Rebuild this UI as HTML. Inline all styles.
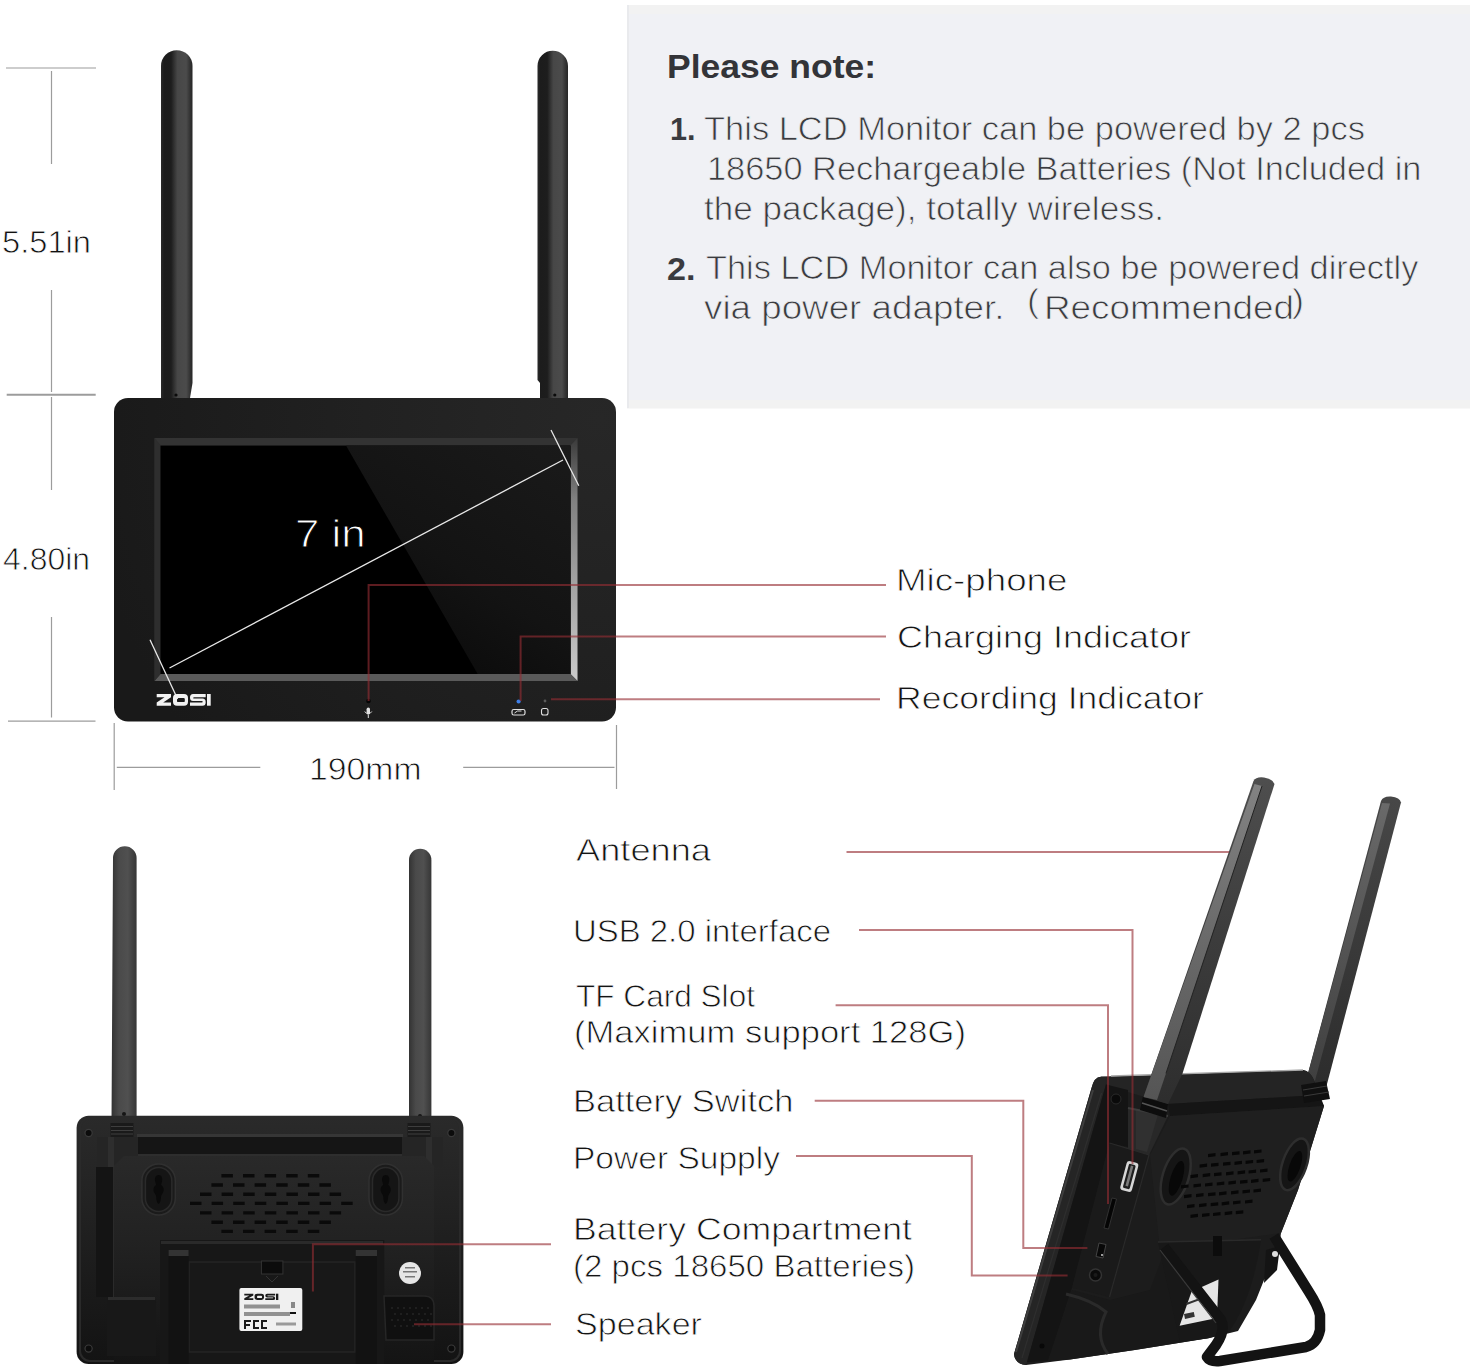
<!DOCTYPE html>
<html><head><meta charset="utf-8"><style>
html,body{margin:0;padding:0;background:#fff;width:1470px;height:1369px;overflow:hidden}
.t{position:absolute;white-space:nowrap;line-height:1;font-family:"Liberation Sans",sans-serif;transform-origin:0 0}
svg{position:absolute;left:0;top:0}
</style></head><body>
<svg width="1470" height="1369" viewBox="0 0 1470 1369">
<defs>
 <linearGradient id="ant" x1="0" x2="1" y1="0" y2="0">
  <stop offset="0" stop-color="#2a2a2a"/><stop offset="0.1" stop-color="#1c1c1c"/><stop offset="0.32" stop-color="#1d1d1d"/>
  <stop offset="0.52" stop-color="#474747"/><stop offset="0.8" stop-color="#4b4b4b"/><stop offset="0.92" stop-color="#333"/><stop offset="1" stop-color="#262626"/>
 </linearGradient>
 <linearGradient id="bant" x1="0" x2="1" y1="0" y2="0">
  <stop offset="0" stop-color="#333"/><stop offset="0.3" stop-color="#4a4a4a"/><stop offset="0.65" stop-color="#505050"/><stop offset="1" stop-color="#363636"/>
 </linearGradient>
 <linearGradient id="rbev" x1="0" x2="0" y1="0" y2="1">
  <stop offset="0" stop-color="#3a3a3a"/><stop offset="0.25" stop-color="#808080"/><stop offset="1" stop-color="#cacaca"/>
 </linearGradient>
 <linearGradient id="refl" gradientUnits="userSpaceOnUse" x1="570" y1="446" x2="420" y2="674">
  <stop offset="0" stop-color="#1a1a1a"/><stop offset="0.6" stop-color="#131313"/><stop offset="1" stop-color="#0a0a0a"/>
 </linearGradient>
 <radialGradient id="body" gradientUnits="userSpaceOnUse" cx="600" cy="420" r="520">
  <stop offset="0" stop-color="#272727"/><stop offset="0.45" stop-color="#212121"/><stop offset="1" stop-color="#191919"/>
 </radialGradient>
</defs>
<!-- gray note box -->
<rect x="627" y="5" width="843" height="403" fill="#f0f1f5"/>
<rect x="627" y="5" width="843" height="9" fill="#f2f2f2"/>
<rect x="627" y="400" width="843" height="8.5" fill="#f2f2f2"/>
<rect x="627" y="5" width="2" height="403" fill="#e9eaed"/>
<!-- dimension lines -->
<g stroke="#9c9c9c" stroke-width="1.2" fill="none">
 <path d="M6 68H96M51.5 71V164M51.5 290V392M51.5 397V490M51.5 617V717.4M114.2 723V790M116.8 767.3H260.3M463.2 767.3H614.5M616.5 725V789"/>
 <path d="M6.7 394.8H95.7" stroke-width="2"/><path d="M8 721.2H95.5" stroke-width="1.3"/>
</g>
<!-- front antennas -->
<path d="M161 66 A15.7 15.7 0 0 1 192.5 66 V383 L190 398 H161 Z" fill="url(#ant)"/>
<path d="M537.5 66 A15.2 15.2 0 0 1 568 66 V398 H540 V383 L537.5 380 Z" fill="url(#ant)"/>
<circle cx="176" cy="395" r="1.6" fill="#0a0a0a"/>
<circle cx="554.8" cy="395" r="1.6" fill="#0a0a0a"/>
<!-- front body -->
<rect x="114" y="398" width="502" height="323.5" rx="14" fill="url(#body)"/>
<!-- bezel -->
<rect x="154.5" y="438" width="423" height="243" fill="#2c2c2c"/>
<polygon points="154.5,438 577.5,438 570.5,445.6 160.5,445.6" fill="#333"/>
<polygon points="577.5,438 577.5,681 570.5,674 570.5,445.6" fill="url(#rbev)"/>
<polygon points="154.5,681 577.5,681 570.5,674 160.5,674" fill="#5a5a5a"/>
<polygon points="154.5,438 160.5,445.6 160.5,674 154.5,681" fill="#2e2e2e"/>
<rect x="160.5" y="445.6" width="410" height="228.4" fill="#000"/>
<polygon points="346,445.6 570.5,445.6 570.5,674 477.7,674" fill="url(#refl)"/>
<!-- diagonal + ticks -->
<g stroke="#e8e8e8" stroke-width="1.3">
 <line x1="169.5" y1="668" x2="563" y2="460"/>
 <line x1="150" y1="639.7" x2="177.6" y2="698.9"/>
 <line x1="551" y1="430" x2="578.8" y2="485.7"/>
</g>
<!-- ZOSI logo -->
<g fill="#f2f2f2">
 <path d="M156.7 694H171V697.3L163.2 702.4H171V705.7H156.7V702.4L164.5 697.3H156.7Z"/>
 <path d="M177 694h7a4 4 0 0 1 4 4v3.7a4 4 0 0 1-4 4h-7a4 4 0 0 1-4-4v-3.7a4 4 0 0 1 4-4zM178.2 697.9h5.4a1.2 1.2 0 0 1 1.2 1.2v1.8a1.2 1.2 0 0 1-1.2 1.2h-5.4a1.2 1.2 0 0 1-1.2-1.2v-1.8a1.2 1.2 0 0 1 1.2-1.2z" fill-rule="evenodd"/>
 <path d="M205.7 694H193Q190 694 190 697.5Q190 701 193 701H202Q202.7 701 202.7 701.7Q202.7 702.4 202 702.4H190V705.7H202.5Q205.7 705.7 205.7 702.2Q205.7 698.6 202.5 698.6H194Q193.2 698.6 193.2 697.95Q193.2 697.3 194 697.3H205.7Z"/>
 <rect x="207" y="694" width="3.7" height="11.7"/>
</g>
<!-- indicators -->
<circle cx="368.5" cy="701" r="2.3" fill="#050505"/>
<rect x="366.6" y="707.5" width="3.4" height="7" rx="1.7" fill="#e0e0e0"/>
<path d="M364.8 711.5q3.5 5 7 0M368.3 715v3" fill="none" stroke="#e0e0e0" stroke-width="1"/>
<circle cx="518.6" cy="701.5" r="2.1" fill="#3d7fe8"/>
<rect x="512" y="709.5" width="13" height="5.5" rx="1.8" fill="none" stroke="#e0e0e0" stroke-width="1.2"/>
<path d="M514.5 713l3-2h4" stroke="#e0e0e0" stroke-width="1" fill="none"/>
<circle cx="545" cy="701" r="1.4" fill="#5a5a5a"/>
<rect x="541.5" y="708.5" width="6.5" height="6.5" rx="2" fill="none" stroke="#e0e0e0" stroke-width="1.1"/>
<!-- red lines front -->
<g stroke="#962d34" stroke-opacity="0.62" stroke-width="2" fill="none">
 <path d="M368.6 701V585H886M520.6 701V636.5H886M551 699.3H880"/>
</g>
<!-- ===== BACK VIEW ===== -->
<path d="M113 858 A11.8 11.8 0 0 1 136.6 858 V1124 H111.5 Z" fill="url(#bant)"/>
<path d="M409 860 A11.2 11.2 0 0 1 431.4 860 V1124 H409 Z" fill="url(#bant)"/>
<circle cx="124" cy="1114" r="2" fill="#151515"/>
<circle cx="420" cy="1116" r="2" fill="#151515"/>
<linearGradient id="bbody" gradientUnits="userSpaceOnUse" x1="0" y1="1116" x2="0" y2="1364"><stop offset="0" stop-color="#2a2a2a"/><stop offset="0.45" stop-color="#202020"/><stop offset="1" stop-color="#131313"/></linearGradient>
<linearGradient id="bpanel" gradientUnits="userSpaceOnUse" x1="0" y1="1156" x2="0" y2="1364"><stop offset="0" stop-color="#292929"/><stop offset="0.4" stop-color="#222"/><stop offset="1" stop-color="#141414"/></linearGradient>
<rect x="76.6" y="1115.7" width="386.8" height="248.3" rx="12" fill="url(#bbody)"/>
<rect x="80" y="1118" width="380" height="243" rx="10" fill="none" stroke="#2a2a2a" stroke-width="2"/>
<!-- antenna collars -->
<rect x="110.5" y="1123" width="23" height="14" fill="#1a1a1a"/>
<path d="M111 1126.5h22M111 1130.5h22M111 1134h22" stroke="#3e3e3e" stroke-width="1.2"/>
<rect x="407.5" y="1123" width="23" height="14" fill="#1a1a1a"/>
<path d="M408 1126.5h22M408 1130.5h22M408 1134h22" stroke="#3e3e3e" stroke-width="1.2"/>
<!-- top ledge -->
<rect x="137" y="1134" width="266" height="3" fill="#363636"/>
<rect x="137" y="1137" width="266" height="19" fill="#151515"/>
<rect x="137" y="1154" width="266" height="2" fill="#2e2e2e"/>
<!-- side columns -->
<rect x="97" y="1137" width="41" height="30" fill="#252525"/>
<rect x="108" y="1137" width="6" height="30" fill="#2e2e2e"/>
<rect x="402" y="1137" width="41" height="30" fill="#252525"/>
<rect x="426" y="1137" width="6" height="30" fill="#2e2e2e"/>
<rect x="96" y="1167" width="18" height="130" fill="#141414"/>
<rect x="113" y="1167" width="2" height="130" fill="#2a2a2a"/>
<!-- raised panel -->
<path d="M114 1166 L124 1156 H424 L434 1166 V1364 H114 Z" fill="url(#bpanel)"/>
<!-- mount ovals -->
<rect x="141.9" y="1164" width="33.4" height="51" rx="16.7" fill="#1b1b1b" stroke="#303030" stroke-width="1.5"/>
<rect x="145.4" y="1167.5" width="26.4" height="44" rx="13.2" fill="#151515" stroke="#2a2a2a" stroke-width="1.5"/>
<path d="M158.6 1175c3 0 4 3 3.5 6l-1 4c3 2 3.5 6 1 9l-1 2c0 4-1 7-2.5 8c-1.5-1-2.5-4-2.5-8l-1-2c-2.5-3-2-7 1-9l-1-4c-0.5-3 0.5-6 3.5-6z" fill="#0a0a0a"/>
<rect x="369.0" y="1164" width="33.4" height="51" rx="16.7" fill="#1b1b1b" stroke="#303030" stroke-width="1.5"/>
<rect x="372.5" y="1167.5" width="26.4" height="44" rx="13.2" fill="#151515" stroke="#2a2a2a" stroke-width="1.5"/>
<path d="M385.7 1175c3 0 4 3 3.5 6l-1 4c3 2 3.5 6 1 9l-1 2c0 4-1 7-2.5 8c-1.5-1-2.5-4-2.5-8l-1-2c-2.5-3-2-7 1-9l-1-4c-0.5-3 0.5-6 3.5-6z" fill="#0a0a0a"/>
<!-- speaker slots -->
<path d="M221.4 1174.0h11.5v3.4h-11.5zM243.0 1174.0h11.5v3.4h-11.5zM264.6 1174.0h11.5v3.4h-11.5zM286.2 1174.0h11.5v3.4h-11.5zM307.8 1174.0h11.5v3.4h-11.5zM211.4 1183.3h11.5v3.4h-11.5zM233.0 1183.3h11.5v3.4h-11.5zM254.6 1183.3h11.5v3.4h-11.5zM276.2 1183.3h11.5v3.4h-11.5zM297.8 1183.3h11.5v3.4h-11.5zM319.4 1183.3h11.5v3.4h-11.5zM200.0 1192.6h11.5v3.4h-11.5zM221.6 1192.6h11.5v3.4h-11.5zM243.2 1192.6h11.5v3.4h-11.5zM264.8 1192.6h11.5v3.4h-11.5zM286.4 1192.6h11.5v3.4h-11.5zM308.0 1192.6h11.5v3.4h-11.5zM329.6 1192.6h11.5v3.4h-11.5zM190.0 1201.7h11.5v3.4h-11.5zM211.6 1201.7h11.5v3.4h-11.5zM233.2 1201.7h11.5v3.4h-11.5zM254.8 1201.7h11.5v3.4h-11.5zM276.4 1201.7h11.5v3.4h-11.5zM298.0 1201.7h11.5v3.4h-11.5zM319.6 1201.7h11.5v3.4h-11.5zM341.2 1201.7h11.5v3.4h-11.5zM200.0 1211.2h11.5v3.4h-11.5zM221.6 1211.2h11.5v3.4h-11.5zM243.2 1211.2h11.5v3.4h-11.5zM264.8 1211.2h11.5v3.4h-11.5zM286.4 1211.2h11.5v3.4h-11.5zM308.0 1211.2h11.5v3.4h-11.5zM329.6 1211.2h11.5v3.4h-11.5zM211.4 1220.6h11.5v3.4h-11.5zM233.0 1220.6h11.5v3.4h-11.5zM254.6 1220.6h11.5v3.4h-11.5zM276.2 1220.6h11.5v3.4h-11.5zM297.8 1220.6h11.5v3.4h-11.5zM319.4 1220.6h11.5v3.4h-11.5zM221.4 1229.7h11.5v3.4h-11.5zM243.0 1229.7h11.5v3.4h-11.5zM264.6 1229.7h11.5v3.4h-11.5zM286.2 1229.7h11.5v3.4h-11.5zM307.8 1229.7h11.5v3.4h-11.5z" fill="#0a0a0a"/>
<!-- stand / battery door -->
<rect x="160" y="1240" width="224.3" height="124" fill="#171717"/>
<rect x="161" y="1241" width="222" height="3" fill="#2a2a2a"/>
<rect x="189" y="1262" width="166" height="90" fill="#181818" stroke="#242424" stroke-width="1.5"/>
<rect x="168.6" y="1250" width="20" height="114" fill="#121212"/>
<rect x="168.6" y="1250" width="20" height="6" fill="#333"/>
<rect x="355.7" y="1250" width="21.3" height="114" fill="#121212"/>
<rect x="355.7" y="1250" width="21.3" height="6" fill="#333"/>
<rect x="261.4" y="1261" width="21.5" height="13" fill="#0c0c0c" stroke="#333" stroke-width="1"/>
<path d="M266 1276l6 6 6-6" fill="none" stroke="#333" stroke-width="1"/>
<!-- label -->
<rect x="239.4" y="1288" width="62.9" height="42.9" rx="2" fill="#f0f0f0"/>
<g transform="translate(244.3 1293.7) scale(0.63 0.54) translate(-156.7 -694)" fill="#1a1a1a">
 <path d="M156.7 694H171V697.3L163.2 702.4H171V705.7H156.7V702.4L164.5 697.3H156.7Z"/>
 <path d="M177 694h7a4 4 0 0 1 4 4v3.7a4 4 0 0 1-4 4h-7a4 4 0 0 1-4-4v-3.7a4 4 0 0 1 4-4zM178.2 697.9h5.4a1.2 1.2 0 0 1 1.2 1.2v1.8a1.2 1.2 0 0 1-1.2 1.2h-5.4a1.2 1.2 0 0 1-1.2-1.2v-1.8a1.2 1.2 0 0 1 1.2-1.2z" fill-rule="evenodd"/>
 <path d="M205.7 694H193Q190 694 190 697.5Q190 701 193 701H202Q202.7 701 202.7 701.7Q202.7 702.4 202 702.4H190V705.7H202.5Q205.7 705.7 205.7 702.2Q205.7 698.6 202.5 698.6H194Q193.2 698.6 193.2 697.95Q193.2 697.3 194 697.3H205.7Z"/>
 <rect x="207" y="694" width="3.7" height="11.7"/>
</g>
<g fill="#444">
 <rect x="244" y="1304.5" width="36" height="4" opacity="0.55"/>
 <rect x="244" y="1312" width="46" height="4" opacity="0.55"/>
 <rect x="291" y="1302" width="4" height="6" opacity="0.6"/>
 <rect x="290" y="1312" width="6" height="2" fill="#111"/>
 <path d="M244 1320h7v2h-5v2h4v2h-4v3h-2z M253 1320h6v2h-4v5h4v2h-6z M261 1320h6v2h-4v5h4v2h-6z" fill="#1a1a1a"/>
 <rect x="276" y="1322.5" width="20" height="3" opacity="0.5"/>
</g>
<!-- QC sticker -->
<circle cx="410" cy="1273" r="11" fill="#e6e6e6"/>
<g fill="#777"><rect x="405" y="1267" width="10" height="1.5"/><rect x="403" y="1271" width="14" height="1.5"/><rect x="405" y="1276" width="10" height="1.5"/></g>
<!-- bottom right speaker grille -->
<path d="M384 1296 H424 Q434 1296 434 1306 V1340 H386 Z" fill="#101010" stroke="#262626" stroke-width="1.5"/>
<g fill="#252525">
<circle cx="392" cy="1308" r="1"/><circle cx="398" cy="1308" r="1"/><circle cx="404" cy="1308" r="1"/><circle cx="410" cy="1308" r="1"/><circle cx="416" cy="1308" r="1"/><circle cx="422" cy="1308" r="1"/><circle cx="428" cy="1308" r="1"/>
<circle cx="395" cy="1314" r="1"/><circle cx="401" cy="1314" r="1"/><circle cx="407" cy="1314" r="1"/><circle cx="413" cy="1314" r="1"/><circle cx="419" cy="1314" r="1"/><circle cx="425" cy="1314" r="1"/><circle cx="431" cy="1314" r="1"/>
<circle cx="392" cy="1320" r="1"/><circle cx="398" cy="1320" r="1"/><circle cx="404" cy="1320" r="1"/><circle cx="410" cy="1320" r="1"/><circle cx="416" cy="1320" r="1"/><circle cx="422" cy="1320" r="1"/><circle cx="428" cy="1320" r="1"/>
<circle cx="395" cy="1326" r="1"/><circle cx="401" cy="1326" r="1"/><circle cx="407" cy="1326" r="1"/><circle cx="413" cy="1326" r="1"/><circle cx="419" cy="1326" r="1"/><circle cx="425" cy="1326" r="1"/><circle cx="431" cy="1326" r="1"/>
</g>
<!-- bottom left foot -->
<path d="M107 1297 H150 Q156 1297 156 1303 V1356 H107 Z" fill="#181818"/>
<rect x="108" y="1297" width="47" height="3" fill="#2c2c2c"/>
<!-- screws -->
<g fill="#0c0c0c" stroke="#3a3a3a" stroke-width="1.2">
<circle cx="88.6" cy="1133" r="3.6"/><circle cx="451.4" cy="1133" r="3.6"/><circle cx="88.6" cy="1348.6" r="3.6"/><circle cx="451.4" cy="1348.6" r="3.6"/>
</g>
<!-- red lines back -->
<g stroke="#962d34" stroke-opacity="0.62" stroke-width="2" fill="none">
 <path d="M312.9 1291.4V1244.3H551M414 1324.3H551"/>
</g>
<!-- ===== ANGLED VIEW ===== -->
<!-- right antenna (behind) -->
<linearGradient id="rad" gradientUnits="userSpaceOnUse" x1="0" y1="800" x2="0" y2="1090"><stop offset="0" stop-color="#474747"/><stop offset="1" stop-color="#2c2c2c"/></linearGradient>
<linearGradient id="ral" gradientUnits="userSpaceOnUse" x1="0" y1="800" x2="0" y2="1090"><stop offset="0" stop-color="#6a6a6a"/><stop offset="1" stop-color="#3e3e3e"/></linearGradient>
<linearGradient id="lad" gradientUnits="userSpaceOnUse" x1="0" y1="780" x2="0" y2="1100"><stop offset="0" stop-color="#4e4e4e"/><stop offset="0.5" stop-color="#3c3c3c"/><stop offset="1" stop-color="#2e2e2e"/></linearGradient>
<linearGradient id="lal" gradientUnits="userSpaceOnUse" x1="0" y1="780" x2="0" y2="1100"><stop offset="0" stop-color="#838383"/><stop offset="0.5" stop-color="#6a6a6a"/><stop offset="1" stop-color="#555"/></linearGradient>
<path d="M1381 801 Q1383 796 1391 796.5 Q1400 797.5 1401 802.5 L1326.5 1086 L1303.5 1090 Z" fill="url(#rad)"/>
<path d="M1382 803 L1390 803.5 L1313 1088 L1303.5 1090 Z" fill="url(#ral)"/>
<!-- main body silhouette -->
<path d="M1091.6 1087.8 Q1094 1077 1101 1076.7 L1148.8 1076 L1303 1070 Q1310 1071 1314 1080 L1324 1106 L1298 1190 L1281 1233 L1277 1262 L1264 1280 L1256 1300 L1238 1331 L1209.5 1338 L1134.7 1350 L1070 1359.5 L1026 1365 Q1015 1364 1014 1354 Z" fill="#1c1c1c"/>
<!-- top strip -->
<path d="M1101 1076.7 L1303 1070 Q1310 1071 1314 1080 L1318 1095 L1168 1104 L1128 1092 L1106 1084.5 Z" fill="#242424"/>
<path d="M1111 1076 L1303 1070" stroke="#a8a8a8" stroke-width="1.3"/>
<path d="M1168 1104 L1318 1095 L1324 1106 L1170 1116 Z" fill="#151515"/>
<!-- back shell panel -->
<path d="M1170 1116 L1324 1106 L1298 1190 L1281 1233 L1160 1250 L1150 1155 Z" fill="#1f1f1f"/>
<!-- front bezel -->
<path d="M1091.6 1087.8 Q1094 1077 1101 1076.7 L1108 1077 Q1104 1080 1106 1084.5 L1027 1362 L1026 1365 Q1015 1364 1014 1354 Z" fill="#252525"/>
<path d="M1093 1090 L1016 1352" stroke="#3e3e3e" stroke-width="2"/>
<path d="M1101.5 1093 L1022 1358" stroke="#2e2e2e" stroke-width="1.2"/>
<!-- dark recess -->
<path d="M1106 1084.5 L1128 1090 L1128 1147 L1109.5 1143 L1072 1287.7 L1048 1361 L1027 1362 Z" fill="#141414"/>
<circle cx="1116" cy="1099" r="5" fill="#0a0a0a" stroke="#2a2a2a" stroke-width="1"/>
<!-- pillar below antenna -->
<path d="M1128 1108 L1168 1116 L1149 1155 L1128 1148.5 Z" fill="#282828"/>
<path d="M1136 1110 L1158 1114.5 L1147 1152 L1136 1149 Z" fill="#303030"/>
<path d="M1128 1108 L1168 1116" stroke="#3c3c3c" stroke-width="2"/>
<!-- port panel -->
<path d="M1109.5 1143 L1149 1155 L1109.5 1297 L1072 1287.7 Z" fill="#1a1a1a"/>
<path d="M1109.5 1143 L1149 1155 L1109.5 1297" fill="none" stroke="#2a2a2a" stroke-width="1.2"/>
<!-- USB -->
<g transform="rotate(15 1129.3 1176.5)">
<rect x="1123.3" y="1161.5" width="12" height="30" rx="3" fill="#d6d6d6"/>
<rect x="1125.8" y="1164" width="7" height="25" rx="1.5" fill="#1e1e1e"/>
<rect x="1128" y="1165.5" width="2.6" height="21" fill="#7a7a7a"/>
</g>
<!-- TF slot -->
<path d="M1112 1198 L1116.5 1199 L1108.5 1229 L1104 1228 Z" fill="#050505" stroke="#3a3a3a" stroke-width="0.8"/>
<!-- switch -->
<path d="M1099 1243 L1106 1244.5 L1103 1258 L1096 1256.5 Z" fill="#080808" stroke="#444" stroke-width="1"/>
<circle cx="1102" cy="1255" r="1" fill="#ccc"/>
<!-- DC jack -->
<circle cx="1095.5" cy="1275" r="6" fill="#0a0a0a" stroke="#333" stroke-width="1.5"/>
<circle cx="1095.5" cy="1275" r="2" fill="#1a1a1a"/>
<!-- lower foot block -->
<path d="M1072 1290 L1110 1300 L1150 1290 L1165 1250 L1209.5 1338 L1134.7 1350 L1070 1359.5 L1048 1361 Z" fill="#191919"/>
<path d="M1066 1294 Q1092 1300 1106 1312 Q1094 1336 1108 1354" fill="none" stroke="#2a2a2a" stroke-width="3"/>
<circle cx="1042" cy="1346" r="2.5" fill="#080808"/>
<!-- mount ovals -->
<g transform="rotate(17 1175.7 1176.5)"><ellipse cx="1175.7" cy="1176.5" rx="13" ry="29" fill="#151515" stroke="#2e2e2e" stroke-width="2.5"/><ellipse cx="1177" cy="1178" rx="6" ry="18" fill="#080808"/></g>
<g transform="rotate(19 1294.5 1164.3)"><ellipse cx="1294.5" cy="1164.3" rx="12" ry="27" fill="#151515" stroke="#2e2e2e" stroke-width="2.5"/><ellipse cx="1295.5" cy="1166" rx="5.5" ry="16" fill="#080808"/></g>
<!-- speaker slots -->
<path d="M1208.0 1154.0l7.5 -0.9v3.2l-7.5 0.9zM1220.5 1153.0l7.5 -0.9v3.2l-7.5 0.9zM1232.0 1152.1l7.5 -0.9v3.2l-7.5 0.9zM1243.0 1151.2l7.5 -0.9v3.2l-7.5 0.9zM1254.0 1150.3l7.5 -0.9v3.2l-7.5 0.9zM1199.6 1164.5l7.5 -0.9v3.2l-7.5 0.9zM1211.0 1163.6l7.5 -0.9v3.2l-7.5 0.9zM1223.0 1162.6l7.5 -0.9v3.2l-7.5 0.9zM1234.5 1161.7l7.5 -0.9v3.2l-7.5 0.9zM1245.6 1160.8l7.5 -0.9v3.2l-7.5 0.9zM1256.6 1159.9l7.5 -0.9v3.2l-7.5 0.9zM1190.5 1175.0l7.5 -0.9v3.2l-7.5 0.9zM1202.7 1174.0l7.5 -0.9v3.2l-7.5 0.9zM1214.0 1173.1l7.5 -0.9v3.2l-7.5 0.9zM1226.0 1172.2l7.5 -0.9v3.2l-7.5 0.9zM1237.6 1171.2l7.5 -0.9v3.2l-7.5 0.9zM1248.6 1170.4l7.5 -0.9v3.2l-7.5 0.9zM1260.0 1169.4l7.5 -0.9v3.2l-7.5 0.9zM1181.0 1185.3l7.5 -0.9v3.2l-7.5 0.9zM1193.5 1184.3l7.5 -0.9v3.2l-7.5 0.9zM1205.0 1183.4l7.5 -0.9v3.2l-7.5 0.9zM1216.8 1182.4l7.5 -0.9v3.2l-7.5 0.9zM1228.4 1181.5l7.5 -0.9v3.2l-7.5 0.9zM1240.0 1180.6l7.5 -0.9v3.2l-7.5 0.9zM1251.0 1179.7l7.5 -0.9v3.2l-7.5 0.9zM1262.7 1178.8l7.5 -0.9v3.2l-7.5 0.9zM1184.0 1195.0l7.5 -0.9v3.2l-7.5 0.9zM1196.0 1194.0l7.5 -0.9v3.2l-7.5 0.9zM1208.0 1193.1l7.5 -0.9v3.2l-7.5 0.9zM1219.0 1192.2l7.5 -0.9v3.2l-7.5 0.9zM1231.0 1191.2l7.5 -0.9v3.2l-7.5 0.9zM1242.5 1190.3l7.5 -0.9v3.2l-7.5 0.9zM1253.5 1189.4l7.5 -0.9v3.2l-7.5 0.9zM1187.0 1205.0l7.5 -0.9v3.2l-7.5 0.9zM1199.0 1204.0l7.5 -0.9v3.2l-7.5 0.9zM1210.7 1203.1l7.5 -0.9v3.2l-7.5 0.9zM1221.7 1202.2l7.5 -0.9v3.2l-7.5 0.9zM1233.0 1201.3l7.5 -0.9v3.2l-7.5 0.9zM1245.0 1200.4l7.5 -0.9v3.2l-7.5 0.9zM1190.5 1214.7l7.5 -0.9v3.2l-7.5 0.9zM1202.0 1213.8l7.5 -0.9v3.2l-7.5 0.9zM1213.0 1212.9l7.5 -0.9v3.2l-7.5 0.9zM1224.7 1212.0l7.5 -0.9v3.2l-7.5 0.9zM1235.8 1211.1l7.5 -0.9v3.2l-7.5 0.9z" fill="#070707"/>
<!-- stand panel -->
<path d="M1158 1242 L1261 1239.7 Q1252 1300 1228.5 1332.5 L1209.5 1338 L1180 1342 Z" fill="#181818"/>
<path d="M1158 1242 L1261 1239.7" stroke="#2a2a2a" stroke-width="1.5"/>
<rect x="1213" y="1236" width="9" height="20" fill="#0c0c0c"/>
<!-- label -->
<path d="M1191.6 1291.4 L1218.5 1279.5 L1217 1318 L1179.6 1325.8 Z" fill="#e6e6e6"/>
<g fill="#333"><rect x="1184" y="1314" width="10" height="5" transform="rotate(-12 1184 1314)"/><rect x="1186" y="1303" width="22" height="2" transform="rotate(-20 1186 1303)"/></g>
<!-- small block right of panel -->
<path d="M1266 1250 L1280 1246 L1277 1270 L1264 1283 Z" fill="#141414"/>
<circle cx="1275" cy="1254" r="3" fill="#ddd"/>
<!-- U stand -->
<path d="M1164 1247 L1221 1320 Q1226 1330 1216 1345 L1207 1357 Q1210 1362 1220 1361 L1306 1347 Q1317 1344 1320 1330 L1320 1315 Q1318 1306 1309 1292 L1274 1236" fill="none" stroke="#131313" stroke-width="10.5" stroke-linejoin="round"/>
<path d="M1160 1250 L1216 1323" stroke="#3a3a3a" stroke-width="1.2"/>
<!-- antenna collars -->
<path d="M1143 1096 L1168 1104 L1166 1118 L1140 1110 Z" fill="#0d0d0d"/>
<path d="M1142 1103 L1167 1111" stroke="#555" stroke-width="1.5"/>
<path d="M1301 1085 L1326 1081 L1330 1099 L1304 1103 Z" fill="#101010"/>
<path d="M1303 1090 L1327 1086M1304 1096 L1329 1092" stroke="#3a3a3a" stroke-width="1.2"/>
<!-- left antenna (front) -->
<path d="M1253.5 781 Q1256 776.5 1264 777.5 Q1273 779 1274.5 784 L1182.6 1073.3 L1168 1104 L1143.5 1097 Z" fill="url(#lad)"/>
<path d="M1254.5 784 L1262 786 L1166 1073.3 L1157 1100 L1143.5 1097 Z" fill="url(#lal)"/>
<path d="M1262 786 L1166 1073.3" stroke="#222" stroke-width="1"/>
<!-- red lines angled -->
<g stroke="#962d34" stroke-opacity="0.62" stroke-width="2" fill="none">
 <path d="M846.5 852H1229M859 930H1132.5V1164M835.6 1005.3H1108V1204M814.7 1100.7H1023.3V1248H1087.4M796 1156H971.8V1275.5H1067.6"/>
</g>
</svg>

<div class="t" id="d1" style="left:1.50px;top:225.91px;font-size:32.0px;color:#111;transform:scaleX(1.0208);-webkit-text-stroke:0.8px #fff">5.51in</div>
<div class="t" id="d2" style="left:2.50px;top:544.34px;font-size:31.5px;color:#111;transform:scaleX(1.0137);-webkit-text-stroke:0.8px #fff">4.80in</div>
<div class="t" id="d3" style="left:309.00px;top:754.08px;font-size:31.8px;color:#111;transform:scaleX(1.0609);-webkit-text-stroke:0.8px #fff">190mm</div>
<div class="t" id="d4" style="left:295.00px;top:513.56px;font-size:39.5px;color:#fff;transform:scaleX(1.1070);-webkit-text-stroke:1.0px #000">7 in</div>
<div class="t" id="m1" style="left:895.50px;top:565.25px;font-size:31.6px;color:#141414;transform:scaleX(1.1624);-webkit-text-stroke:0.8px #fff">Mic-phone</div>
<div class="t" id="m2" style="left:897.00px;top:622.25px;font-size:31.6px;color:#141414;transform:scaleX(1.1386);-webkit-text-stroke:0.8px #fff">Charging Indicator</div>
<div class="t" id="m3" style="left:896.00px;top:682.75px;font-size:31.6px;color:#141414;transform:scaleX(1.1240);-webkit-text-stroke:0.8px #fff">Recording Indicator</div>
<div class="t" id="a1" style="left:576.00px;top:834.75px;font-size:31.6px;color:#141414;transform:scaleX(1.1467);-webkit-text-stroke:0.8px #fff">Antenna</div>
<div class="t" id="a2" style="left:573.00px;top:916.25px;font-size:31.6px;color:#141414;transform:scaleX(1.0417);-webkit-text-stroke:0.8px #fff">USB 2.0 interface</div>
<div class="t" id="a3" style="left:576.00px;top:980.75px;font-size:31.6px;color:#141414;transform:scaleX(0.9994);-webkit-text-stroke:0.8px #fff">TF Card Slot</div>
<div class="t" id="a4" style="left:574.00px;top:1016.75px;font-size:31.6px;color:#141414;transform:scaleX(1.0942);-webkit-text-stroke:0.8px #fff">(Maximum support 128G)</div>
<div class="t" id="a5" style="left:573.00px;top:1085.75px;font-size:31.6px;color:#141414;transform:scaleX(1.0918);-webkit-text-stroke:0.8px #fff">Battery Switch</div>
<div class="t" id="a6" style="left:573.00px;top:1143.25px;font-size:31.6px;color:#141414;transform:scaleX(1.0617);-webkit-text-stroke:0.8px #fff">Power Supply</div>
<div class="t" id="a7" style="left:573.00px;top:1214.25px;font-size:31.6px;color:#141414;transform:scaleX(1.1288);-webkit-text-stroke:0.8px #fff">Battery Compartment</div>
<div class="t" id="a8" style="left:573.00px;top:1251.25px;font-size:31.6px;color:#141414;transform:scaleX(1.0468);-webkit-text-stroke:0.8px #fff">(2 pcs 18650 Batteries)</div>
<div class="t" id="a9" style="left:575.00px;top:1309.25px;font-size:31.6px;color:#141414;transform:scaleX(1.0790);-webkit-text-stroke:0.8px #fff">Speaker</div>
<div class="t" id="g0" style="left:667.00px;top:50.07px;font-size:33.0px;color:#333438;font-weight:bold;transform:scaleX(1.0750);-webkit-text-stroke:0.0px #f0f1f4">Please note:</div>
<div class="t" id="g1" style="left:670.00px;top:113.41px;font-size:32.0px;color:#3a3b3f;font-weight:bold;transform:scaleX(0.9554);-webkit-text-stroke:0.0px #f0f1f4">1.</div>
<div class="t" id="g2" style="left:667.00px;top:252.91px;font-size:32.0px;color:#3a3b3f;font-weight:bold;transform:scaleX(1.0678);-webkit-text-stroke:0.0px #f0f1f4">2.</div>
<div class="t" id="l1" style="left:703.50px;top:112.66px;font-size:32.3px;color:#3a3b3f;transform:scaleX(1.0672);-webkit-text-stroke:0.75px #f0f1f4">This LCD Monitor can be powered by 2 pcs</div>
<div class="t" id="l2" style="left:706.50px;top:152.66px;font-size:32.3px;color:#3a3b3f;transform:scaleX(1.0640);-webkit-text-stroke:0.75px #f0f1f4">18650 Rechargeable Batteries (Not Included in</div>
<div class="t" id="l3" style="left:704.00px;top:193.16px;font-size:32.3px;color:#3a3b3f;transform:scaleX(1.0857);-webkit-text-stroke:0.75px #f0f1f4">the package), totally wireless.</div>
<div class="t" id="l4" style="left:705.50px;top:252.16px;font-size:32.3px;color:#3a3b3f;transform:scaleX(1.0640);-webkit-text-stroke:0.75px #f0f1f4">This LCD Monitor can also be powered directly</div>
<div class="t" id="l5" style="left:704.00px;top:291.66px;font-size:32.3px;color:#3a3b3f;transform:scaleX(1.1385);-webkit-text-stroke:0.75px #f0f1f4">via power adapter.</div>
<div class="t" id="l6" style="left:1044.00px;top:291.66px;font-size:32.3px;color:#3a3b3f;transform:scaleX(1.1414);-webkit-text-stroke:0.75px #f0f1f4">Recommended</div>
<div class="t" id="p1" style="left:1027.00px;top:284.66px;font-size:32.3px;color:#3a3b3f;transform:scaleX(1.1157);-webkit-text-stroke:0.75px #f0f1f4">(</div>
<div class="t" id="p2" style="left:1292.00px;top:284.66px;font-size:32.3px;color:#3a3b3f;transform:scaleX(1.1157);-webkit-text-stroke:0.75px #f0f1f4">)</div>

</body></html>
